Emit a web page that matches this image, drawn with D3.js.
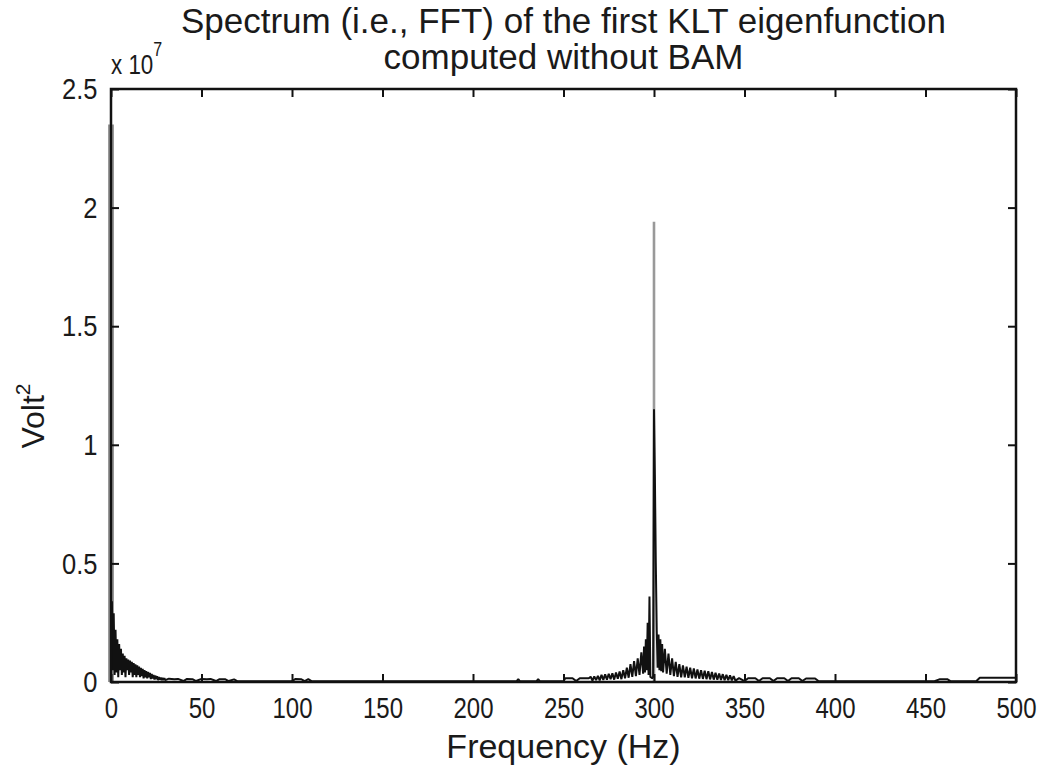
<!DOCTYPE html>
<html>
<head>
<meta charset="utf-8">
<script src="https://cdn.jsdelivr.net/npm/d3@7"></script>
<style>
  html, body { margin: 0; padding: 0; background: #fff; }
  svg text { font-family: "Liberation Sans", Arial, Helvetica, sans-serif; fill: #1a1a1a; }
</style>
</head>
<body>
<svg id="chart" width="1043" height="769"></svg>
<script>
// Power spectrum of the first KLT eigenfunction, in units of 1e7 Volt^2.
// Each band is a list of [frequency (Hz), power] bins.

// Low-frequency band near DC (0.5 Hz bins).
const lowBand = [
  [0.5,0.34],[1.0,0.05],[1.5,0.29],[2.0,0.03],[2.5,0.22],[3.0,0.04],[3.5,0.18],[4.0,0.02],
  [4.5,0.16],[5.0,0.05],[5.5,0.14],[6.0,0.03],[6.5,0.12],[7.0,0.04],[7.5,0.11],[8.0,0.02],
  [8.5,0.10],[9.0,0.05],[9.5,0.095],[10.0,0.03],[10.5,0.09],[11.0,0.04],[11.5,0.085],[12.0,0.02],
  [12.5,0.08],[13.0,0.03],[13.5,0.075],[14.0,0.02],[14.5,0.07],[15.0,0.03],[15.5,0.065],[16.0,0.02],
  [16.5,0.06],[17.0,0.025],[17.5,0.055],[18.0,0.015],[18.5,0.05],[19.0,0.02],[19.5,0.046],[20.0,0.015],
  [20.5,0.042],[21.0,0.02],[21.5,0.038],[22.0,0.012],[22.5,0.034],[23.0,0.015],[23.5,0.03],[24.0,0.01],
  [24.5,0.027],[25.0,0.012],[25.5,0.024],[26.0,0.008],[26.5,0.021],[27.0,0.01],[27.5,0.019],[28.0,0.008],
  [28.5,0.017],[29.0,0.008],[29.5,0.016],[30.0,0.008]
];

// Quiet region between the two peaks.
const midBand = [
  [32,0.014],[35,0.012],[37,0.013],[40,0.004],[42,0.013],[45,0.012],[47,0.004],[50,0.013],
  [53,0.012],[55,0.013],[58,0.004],[60,0.012],[63,0.012],[65,0.004],[68,0.011],[70,0.003],
  [80,0.003],[90,0.003],[100,0.004],[102,0.013],[105,0.012],[107,0.004],[109,0.012],[111,0.003],
  [130,0.003],[160,0.003],[190,0.003],[224,0.003],[225,0.012],[226,0.003],[235,0.003],[236,0.012],
  [237,0.003],[250,0.003],[251,0.016],[255,0.016],[257,0.004],[259,0.016],[262,0.016],[264,0.016]
];

// Band around the 300 Hz component.
const peakBand = [
  [265,0.022],[266,0.006],[267,0.024],[268,0.008],[269,0.026],[270,0.007],[271,0.03],[272,0.009],
  [273,0.032],[274,0.01],[275,0.035],[276,0.012],[277,0.037],[278,0.01],[279,0.04],[280,0.014],
  [281,0.044],[282,0.012],[283,0.05],[284,0.016],[285,0.06],[286,0.018],[287,0.075],[288,0.022],
  [289,0.088],[290,0.025],[291,0.1],[292,0.03],[293,0.125],[294,0.035],[294.5,0.15],[295,0.04],
  [295.5,0.18],[296,0.05],[296.5,0.25],[297,0.03],[297.5,0.36],[298,0.02],[298.5,0.02],[299,0.015],
  [299.5,0.02],[300,1.15],[300.5,0.86],[301,0.5],[301.5,0.22],[302,0.06],[302.5,0.2],[303,0.05],
  [303.5,0.18],[304,0.045],[304.5,0.16],[305,0.04],[306,0.14],[307,0.035],[308,0.12],[309,0.03],
  [310,0.1],[311,0.025],[312,0.085],[313,0.022],[314,0.075],[315,0.02],[316,0.07],[317,0.02],
  [318,0.065],[319,0.018],[320,0.06],[321,0.016],[322,0.057],[323,0.015],[324,0.053],[325,0.014],
  [326,0.05],[327,0.013],[328,0.048],[329,0.012],[330,0.045],[331,0.011],[332,0.042],[333,0.01],
  [334,0.039],[335,0.01],[336,0.036],[337,0.009],[338,0.033],[339,0.008],[340,0.03],[341,0.008],
  [342,0.028],[343,0.007],[344,0.025],[345,0.006]
];

// Upper band up to the Nyquist limit.
const highBand = [
  [347,0.016],[350,0.004],[352,0.016],[356,0.016],[358,0.004],[360,0.016],[364,0.016],[366,0.004],
  [368,0.016],[372,0.016],[374,0.004],[376,0.016],[380,0.016],[382,0.004],[384,0.015],[389,0.015],
  [391,0.003],[420,0.003],[455,0.003],[458,0.012],[462,0.012],[464,0.003],[478,0.003],[480,0.018],
  [500,0.018]
];

// Single-bin maxima (DC term and the 300 Hz line).
const spikeBins = [[0, 2.35], [300, 1.94]];

const xTicks = [0, 50, 100, 150, 200, 250, 300, 350, 400, 450, 500];
const yTicks = [0, 0.5, 1, 1.5, 2, 2.5];

const plot = { left: 111, top: 89, right: 1016, bottom: 682 };

const svg = d3.select("#chart");
const x = d3.scaleLinear().domain([0, 500]).range([plot.left, plot.right]);
const y = d3.scaleLinear().domain([0, 2.5]).range([plot.bottom, plot.top]);

const spectrum = [].concat(lowBand, midBand, peakBand, highBand);

// Spikes drawn as thin grey stems beneath the trace.
svg.append("g").selectAll("line").data(spikeBins).join("line")
  .attr("x1", d => x(d[0])).attr("x2", d => x(d[0]))
  .attr("y1", y(0)).attr("y2", d => y(d[1]))
  .attr("stroke", "#999").attr("stroke-width", d => d[0] === 0 ? 6 : 2.6);

// Spectrum trace.
svg.append("path")
  .datum(spectrum)
  .attr("fill", "none")
  .attr("stroke", "#111")
  .attr("stroke-width", 2)
  .attr("stroke-linejoin", "bevel")
  .attr("d", d3.line().x(d => x(d[0])).y(d => y(d[1])));

// Axes with inward ticks on all four sides (box style).
const tickLen = 8;
const axisFont = 30;

const gBottom = svg.append("g").attr("transform", `translate(0,${plot.bottom})`)
  .call(d3.axisBottom(x).tickValues(xTicks).tickSizeInner(-tickLen).tickSizeOuter(0).tickPadding(15).tickFormat(d3.format("d")));
const gTop = svg.append("g").attr("transform", `translate(0,${plot.top})`)
  .call(d3.axisTop(x).tickValues(xTicks).tickSizeInner(-tickLen).tickSizeOuter(0).tickFormat(""));
const gLeft = svg.append("g").attr("transform", `translate(${plot.left},0)`)
  .call(d3.axisLeft(y).tickValues(yTicks).tickSizeInner(-tickLen).tickSizeOuter(0).tickPadding(16).tickFormat(d => d === 0 ? "0" : d3.format("")(d)));
const gRight = svg.append("g").attr("transform", `translate(${plot.right},0)`)
  .call(d3.axisRight(y).tickValues(yTicks).tickSizeInner(-tickLen).tickSizeOuter(0).tickFormat(""));

[gBottom, gTop, gLeft, gRight].forEach(g => {
  g.select(".domain").remove();
  g.selectAll(".tick line").attr("stroke", "#111").attr("stroke-width", 2);
  g.selectAll(".tick text").style("font-size", axisFont + "px").attr("fill", "#1a1a1a");
});
gBottom.selectAll(".tick text").attr("transform", "scale(0.8,1)");
gLeft.selectAll(".tick text").attr("transform", "scale(0.85,1)");

// Plot frame.
svg.append("rect")
  .attr("x", plot.left).attr("y", plot.top)
  .attr("width", plot.right - plot.left).attr("height", plot.bottom - plot.top)
  .attr("fill", "none").attr("stroke", "#111").attr("stroke-width", 2.5);

// Exponent label above the y axis.
const expo = svg.append("text").attr("x", plot.left).attr("y", 74)
  .style("font-size", "28px").attr("transform", `translate(${plot.left},0) scale(0.8,1) translate(${-plot.left},0)`);
expo.append("tspan").text("x 10");
expo.append("tspan").attr("dy", -18).style("font-size", "20px").text("7");

// Title.
const cx = (plot.left + plot.right) / 2;
svg.append("text").attr("x", cx).attr("y", 33).attr("text-anchor", "middle")
  .style("font-size", "35px").text("Spectrum (i.e., FFT) of the first KLT eigenfunction");
svg.append("text").attr("x", cx).attr("y", 69).attr("text-anchor", "middle")
  .style("font-size", "35px").text("computed without BAM");

// Axis titles.
svg.append("text").attr("x", cx).attr("y", 758).attr("text-anchor", "middle")
  .style("font-size", "34px").text("Frequency (Hz)");
const ylab = svg.append("text").attr("transform", `translate(44,416) rotate(-90)`)
  .attr("text-anchor", "middle").style("font-size", "32px");
ylab.append("tspan").text("Volt");
ylab.append("tspan").attr("dy", -14).style("font-size", "21px").text("2");
</script>
</body>
</html>
